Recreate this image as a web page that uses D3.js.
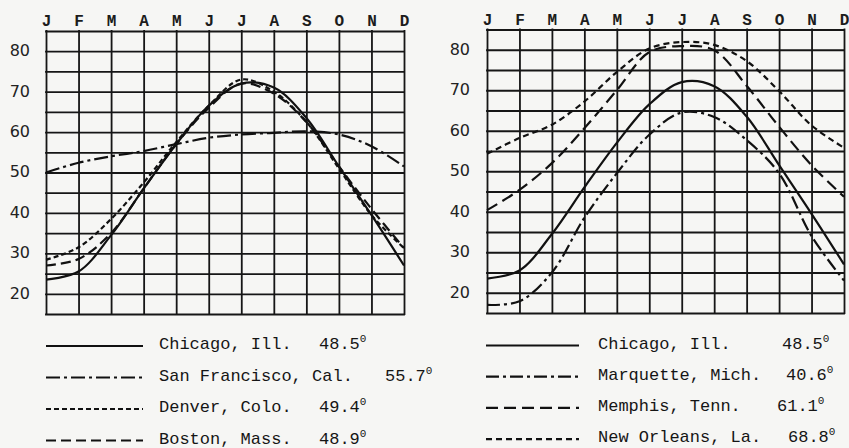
<!DOCTYPE html>
<html>
<head>
<meta charset="utf-8">
<script src="https://cdn.jsdelivr.net/npm/d3@7"></script>
<style>
  body { margin: 0; background: #f6f6f4; }
  svg { display: block; }
  .grid line { stroke: #161616; stroke-width: 1.8; stroke-linecap: square; }
  .grid .domain { display: none; }
  .months text { font-family: "Liberation Mono", monospace; font-weight: bold; font-size: 16px; fill: #1c1c1c; }
  .temps text { font-family: "DejaVu Sans", sans-serif; font-size: 16px; fill: #222; }
  .legend text { font-family: "Liberation Mono", monospace; font-size: 17px; fill: #151515; }
  .curve { fill: none; stroke: #111; stroke-width: 2.2; }
</style>
</head>
<body>
<div id="chart"></div>
<script>
// Monthly mean temperatures (deg F)

const months = ["J", "F", "M", "A", "M", "J", "J", "A", "S", "O", "N", "D"];
const gridTemps = [15, 20, 25, 30, 35, 40, 45, 50, 55, 60, 65, 70, 75, 80, 85];
const tempLabels = [20, 30, 40, 50, 60, 70, 80];

const chicago      = [23.5, 25.5, 34.5, 46, 57, 66.5, 72, 71, 63.5, 51.5, 39.5, 27];
const sanFrancisco = [50, 52.4, 54, 55.3, 57, 58.6, 59.4, 59.8, 60.2, 59.4, 56.5, 51.5];
const denver       = [28.4, 31.5, 38.5, 47.5, 57.5, 66.5, 73, 70, 62.5, 51, 39.5, 31.3];
const boston       = [27, 28.6, 35, 46, 57, 66, 72, 69.5, 62.5, 51.5, 41, 31.3];
const marquette    = [17, 17.9, 25, 38.5, 49.5, 59, 64.5, 63.4, 57.7, 49.5, 34, 23];
const memphis      = [40.4, 45.4, 52, 60.6, 70, 79.4, 80.9, 79.9, 71.1, 61, 51.5, 43.7];
const newOrleans   = [54.3, 58.2, 61.5, 67.2, 74.5, 80.3, 81.9, 81.2, 77.2, 69.8, 61.3, 55.8];

const leftNames  = ["Chicago, Ill.", "San Francisco, Cal.", "Denver, Colo.", "Boston, Mass."];
const leftMeans  = ["48.5", "55.7", "49.4", "48.9"];
const rightNames = ["Chicago, Ill.", "Marquette, Mich.", "Memphis, Tenn.", "New Orleans, La."];
const rightMeans = ["48.5", "40.6", "61.1", "68.8"];

// dash patterns, one per line style
const dashes = {
    solid: null,
    dashDot: "14,4,3,4",
    dotted: "5,3",
    dashed: "10,5",
    dashDot2: "13,4,3,4",
    longDash: "12,6",
    shortDash: "6,4"
};

const width = 849, height = 448;

const svg = d3.select("#chart").append("svg")
              .attr("width", width)
              .attr("height", height);

function renderPanel(p) {
    const x = d3.scaleLinear()
                .domain([0, 11])
                .range([p.x0, p.x1]);
    const y = d3.scaleLinear()
                .domain([15, 85])
                .range([p.yBottom, p.yTop]);

    const g = svg.append("g");

    // Vertical grid lines + month letters on top
    g.append("g")
     .attr("class", "grid months")
     .attr("transform", "translate(0," + p.yTop + ")")
     .call(d3.axisTop(x)
             .tickValues(d3.range(months.length))
             .tickSize(-(p.yBottom - p.yTop))
             .tickSizeOuter(0)
             .tickPadding(5)
             .tickFormat(i => months[i]));

    // Horizontal grid lines every 5 degrees, labelled every 10
    g.append("g")
     .attr("class", "grid temps")
     .attr("transform", "translate(" + p.x0 + ",0)")
     .call(d3.axisLeft(y)
             .tickValues(gridTemps)
             .tickSize(-(p.x1 - p.x0))
             .tickSizeOuter(0)
             .tickPadding(p.labelPad)
             .tickFormat(v => tempLabels.includes(v) ? v : ""));
    g.selectAll(".temps text").attr("dy", "0.28em");

    const line = d3.line()
                   .x((d, i) => x(i))
                   .y(d => y(d))
                   .curve(d3.curveCatmullRom.alpha(0.5));

    p.series.forEach(function (s) {
        g.append("path")
         .datum(s.values)
         .attr("class", "curve")
         .attr("d", line)
         .attr("stroke-dasharray", dashes[s.style]);
    });

    // Legend rows under the grid
    const legend = g.append("g").attr("class", "legend");
    p.series.forEach(function (s, i) {
        const ly = p.legendY + i * p.legendStep;
        legend.append("line")
              .attr("class", "curve")
              .attr("x1", p.legendX0)
              .attr("x2", p.legendX1)
              .attr("y1", ly)
              .attr("y2", ly)
              .attr("stroke-dasharray", dashes[s.style]);
        legend.append("text")
              .attr("x", p.nameX)
              .attr("y", ly + 3)
              .text(s.name);
        const t = legend.append("text")
                        .attr("x", p.meanX[i])
                        .attr("y", ly + 3)
                        .text(s.mean);
        t.append("tspan")
         .attr("dy", -7)
         .attr("font-size", 11)
         .text("0");
    });
}

renderPanel({
    x0: 46, x1: 404, yTop: 31, yBottom: 314, labelPad: 16,
    legendX0: 46, legendX1: 143, legendY: 346, legendStep: 31.5,
    nameX: 159, meanX: [319, 385, 319, 319],
    series: [
        {values: chicago, style: "solid", name: leftNames[0], mean: leftMeans[0]},
        {values: sanFrancisco, style: "dashDot", name: leftNames[1], mean: leftMeans[1]},
        {values: denver, style: "dotted", name: leftNames[2], mean: leftMeans[2]},
        {values: boston, style: "dashed", name: leftNames[3], mean: leftMeans[3]}
    ]
});

renderPanel({
    x0: 487, x1: 844, yTop: 29.5, yBottom: 313, labelPad: 17,
    legendX0: 486, legendX1: 579, legendY: 345.5, legendStep: 31.2,
    nameX: 598, meanX: [782, 786, 777, 788],
    series: [
        {values: chicago, style: "solid", name: rightNames[0], mean: rightMeans[0]},
        {values: marquette, style: "dashDot2", name: rightNames[1], mean: rightMeans[1]},
        {values: memphis, style: "longDash", name: rightNames[2], mean: rightMeans[2]},
        {values: newOrleans, style: "shortDash", name: rightNames[3], mean: rightMeans[3]}
    ]
});
</script>
</body>
</html>
